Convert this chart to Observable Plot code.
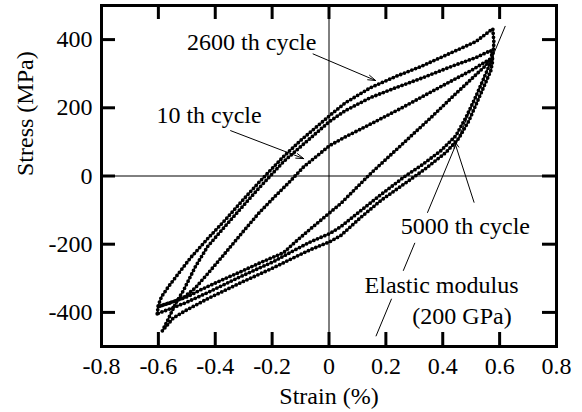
<!DOCTYPE html>
<html>
<head>
<meta charset="utf-8">
<script src="https://cdn.jsdelivr.net/npm/d3@7"></script>
<script src="https://cdn.jsdelivr.net/npm/@observablehq/plot@0.6"></script>
<style>
  html, body { margin: 0; padding: 0; background: #fff; }
  #chart { width: 582px; height: 412px; }
  #chart svg, #chart svg text { font-family: "Liberation Serif", "Times New Roman", serif !important; }
</style>
</head>
<body>
<div id="chart"></div>
<script>
// ---- Data (strain in %, stress in MPa) ----
// 10 th cycle (narrow loop): upper branch then lower branch
const strain10 = [-0.600,-0.558,-0.512,-0.470,-0.427,-0.364,-0.311,-0.248,-0.195,-0.135,-0.089,0.002,0.058,0.129,0.252,0.393,0.499,0.569,
                  0.551,0.499,0.439,0.358,0.252,0.146,0.041,0.002,-0.065,-0.118,-0.160,-0.241,-0.311,-0.382,-0.452,-0.498,-0.551,-0.600];
const stress10 = [-383,-372,-357,-328,-287,-225,-172,-110,-64,-14,27,89,115,145,198,262,309,344,
                  324,283,236,171,89,7,-81,-108,-155,-193,-225,-254,-281,-307,-334,-354,-369,-383];

// 2600 th cycle
const strain2600 = [-0.604,-0.600,-0.589,-0.565,-0.533,-0.487,-0.427,-0.364,-0.311,-0.248,-0.160,-0.100,0.002,0.058,0.146,0.235,0.323,0.439,0.516,0.576,
                    0.580,0.576,0.562,0.541,0.513,0.481,0.446,0.393,0.323,0.270,0.182,0.111,0.041,0.002,-0.065,-0.118,-0.195,-0.311,-0.427,-0.505,-0.558,-0.604];
const stress2600 = [-404,-378,-354,-325,-290,-240,-184,-128,-78,-20,57,104,177,215,259,292,321,365,394,432,
                    391,353,321,280,227,171,118,74,30,1,-55,-102,-149,-169,-193,-216,-251,-295,-342,-372,-389,-404];

// 5000 th cycle
const strain5000 = [-0.586,-0.565,-0.540,-0.512,-0.470,-0.427,-0.364,-0.311,-0.248,-0.160,-0.100,0.002,0.058,0.146,0.235,0.323,0.439,0.516,0.569,
                    0.576,0.569,0.551,0.523,0.492,0.456,0.411,0.340,0.280,0.182,0.111,0.041,0.002,-0.065,-0.118,-0.195,-0.311,-0.427,-0.505,-0.547,-0.586];
const stress5000 = [-454,-419,-375,-336,-266,-207,-146,-96,-37,42,86,160,192,230,259,286,324,347,368,
                    339,309,274,221,162,110,69,22,-14,-72,-122,-175,-193,-216,-237,-269,-313,-360,-395,-416,-454];

// Elastic modulus line (200 GPa) through zero stress at 0.4 % strain; drawn in pieces around the labels
const modulusGPa = 200;
const modulusZeroStrain = 0.4;
const modulusStressFrom = [440, -196, -360];
const modulusStressTo   = [-108, -278, -470];

// Annotations
const labelText = ["2600 th cycle", "10 th cycle", "5000 th cycle", "Elastic modulus", "(200 GPa)"];
const labelX    = [-0.499, -0.607, 0.252, 0.125, 0.293];
const labelY    = [392, 178, -147, -322, -411];

const arrowX1 = [-0.056, -0.346, 0.510];
const arrowY1 = [358, 133, -77];
const arrowX2 = [0.164, -0.089, 0.440];
const arrowY2 = [280, 51, 104];

// Axes
const xTickLabels = [-0.8, -0.6, -0.4, -0.2, 0, 0.2, 0.4, 0.6, 0.8];
const xInnerTicks = [-0.6, -0.4, -0.2, 0, 0.2, 0.4, 0.6];
const yTickLabels = [-400, -200, 0, 200, 400];
const xLabel = "Strain (%)";
const yLabel = "Stress (MPa)";

// ---- Build tables ----
const loops = [];
const addLoop = (name, xs, ys) => xs.forEach((x, i) => loops.push({cycle: name, strain: x, stress: ys[i]}));
addLoop("10", strain10, stress10);
addLoop("2600", strain2600, stress2600);
addLoop("5000", strain5000, stress5000);

const modulusSegs = modulusStressFrom.map((s, i) => ({
  x1: modulusZeroStrain + s / (modulusGPa * 10),
  y1: s,
  x2: modulusZeroStrain + modulusStressTo[i] / (modulusGPa * 10),
  y2: modulusStressTo[i]
}));
const labels = labelText.map((t, i) => ({text: t, x: labelX[i], y: labelY[i]}));
const arrows = arrowX1.map((x, i) => ({x1: x, y1: arrowY1[i], x2: arrowX2[i], y2: arrowY2[i]}));

const W = 582, H = 412, ML = 101, MR = 26, MT = 5, MB = 66;
const innerW = W - ML - MR, innerH = H - MT - MB;
const TL = 14;
const font = "'Liberation Serif', 'Times New Roman', serif";
const fs = 24;

const chart = Plot.plot({
  width: W, height: H,
  marginLeft: ML, marginRight: MR, marginTop: MT, marginBottom: MB,
  x: {domain: [-0.8, 0.8]},
  y: {domain: [-500, 500]},
  style: {fontFamily: font, fontSize: fs + "px", background: "#fff", color: "#000"},
  marks: [
    Plot.ruleX([0], {stroke: "#000", strokeWidth: 1}),
    Plot.ruleY([0], {stroke: "#000", strokeWidth: 1}),
    Plot.line(loops, {x: "strain", y: "stress", z: "cycle", stroke: "#000", strokeWidth: 1.3}),
    Plot.line(loops, {x: "strain", y: "stress", z: "cycle", stroke: "#000", strokeWidth: 3.8,
      strokeDasharray: "0,4", strokeLinecap: "round"}),
    Plot.link(modulusSegs, {x1: "x1", y1: "y1", x2: "x2", y2: "y2", stroke: "#000", strokeWidth: 1}),
    Plot.arrow(arrows, {x1: "x1", y1: "y1", x2: "x2", y2: "y2", stroke: "#000", strokeWidth: 1,
      headLength: 12, headAngle: 35}),
    Plot.text(labels, {x: "x", y: "y", text: "text", textAnchor: "start", fontSize: fs, fontFamily: font, fill: "#000"}),
    Plot.frame({stroke: "#000", strokeWidth: 3}),
    Plot.tickX(xInnerTicks, {x: d => d, insetTop: innerH - TL, stroke: "#000", strokeWidth: 3}),
    Plot.tickX(xInnerTicks, {x: d => d, insetBottom: innerH - TL, stroke: "#000", strokeWidth: 3}),
    Plot.tickY(yTickLabels, {y: d => d, insetRight: innerW - TL, stroke: "#000", strokeWidth: 3}),
    Plot.tickY(yTickLabels, {y: d => d, insetLeft: innerW - TL, stroke: "#000", strokeWidth: 3}),
    Plot.axisX({ticks: xTickLabels, tickSize: 0, tickPadding: 10, tickFormat: d => String(d),
      label: null, fontSize: fs, fontFamily: font, fill: "#000"}),
    Plot.axisY({ticks: yTickLabels, tickSize: 0, tickPadding: 9, tickFormat: d => String(d),
      label: null, fontSize: fs, fontFamily: font, fill: "#000"}),
    Plot.text([xLabel], {frameAnchor: "bottom", dy: 40, lineAnchor: "top", fontSize: fs, fontFamily: font, fill: "#000"}),
    Plot.text([yLabel], {frameAnchor: "left", dx: -76, rotate: -90, fontSize: fs, fontFamily: font, fill: "#000"})
  ]
});
document.getElementById("chart").appendChild(chart);
</script>
</body>
</html>
